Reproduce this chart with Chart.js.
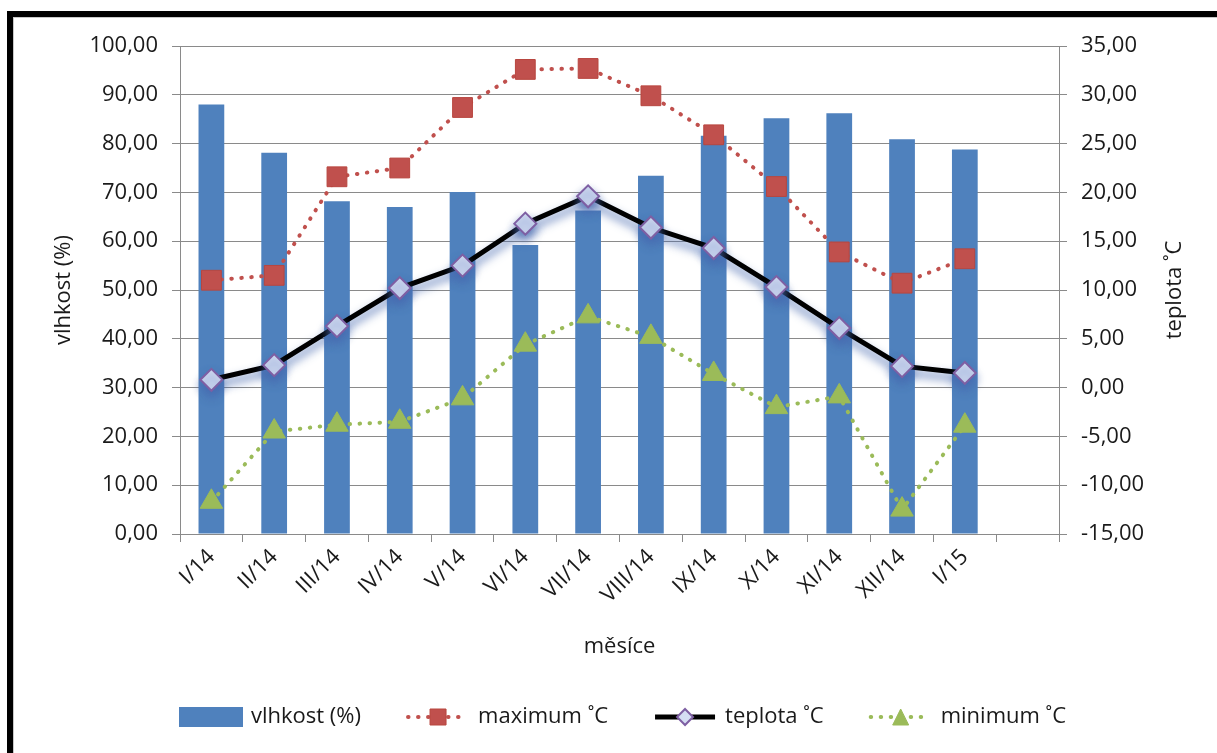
<!DOCTYPE html>
<html><head><meta charset="utf-8">
<script src="https://cdn.jsdelivr.net/npm/chart.js@4.4.1/dist/chart.umd.min.js"></script>
<style>
html,body{margin:0;padding:0;background:#fff;overflow:hidden}
#wrap{position:relative;width:1217px;height:753px;overflow:hidden}
#frame{position:absolute;left:7px;top:11px;width:1240px;height:780px;border-top:6px solid #000;border-left:6px solid #000;box-shadow:inset 1px 1px 0 #c8c8c8}
canvas{position:absolute;left:0;top:0}
</style></head><body>
<div id="wrap"><div id="frame"></div><canvas id="c" width="1217" height="753"></canvas></div>
<script>
const categories = ['I/14','II/14','III/14','IV/14','V/14','VI/14','VII/14','VIII/14','IX/14','X/14','XI/14','XII/14','I/15',''];
const humidity = [88.0,78.1,68.2,67.0,70.1,59.2,66.3,73.4,81.6,85.2,86.2,80.9,78.8];
const tempMax  = [11.0,11.5,21.6,22.5,28.7,32.6,32.7,29.9,25.9,20.6,13.9,10.7,13.2];
const tempAvg  = [0.8,2.3,6.3,10.2,12.5,16.8,19.6,16.4,14.3,10.3,6.1,2.2,1.5];
const tempMin  = [-11.7,-4.5,-3.8,-3.5,-1.1,4.4,7.3,5.2,1.4,-2.0,-0.9,-12.5,-3.9];
const seriesNames = ['vlhkost (%)','maximum ˚C','teplota ˚C','minimum ˚C'];
const axisTitles = {x:'měsíce', left:'vlhkost (%)', right:'teplota ˚C'};

const FONT = {family:"'Open Sans', 'Noto Sans', sans-serif", size:22};
const TXT = '#1a1a1a';
const GRID = '#8a8a8a';
const fmt = v => Number(v).toFixed(2).replace('.', ',');

const glow = {
  id:'glow',
  beforeDatasetDraw(chart, args){
    if (chart.data.datasets[args.index].glow){
      const c = chart.ctx; c.save();
      c.shadowColor = 'rgba(70,105,175,0.85)'; c.shadowBlur = 10; c.shadowOffsetX = 0; c.shadowOffsetY = 6;
    }
  },
  afterDatasetDraw(chart, args){
    if (chart.data.datasets[args.index].glow) chart.ctx.restore();
  }
};

// right axis title reads bottom-to-top, as in the original
const rightTitle = {
  id:'rightTitle',
  afterDraw(chart){
    const s = chart.scales.y1, ctx = chart.ctx;
    ctx.save();
    ctx.font = FONT.size + 'px ' + FONT.family;
    ctx.fillStyle = TXT; ctx.textAlign = 'center'; ctx.textBaseline = 'middle';
    ctx.translate(s.right - 42, (s.top + s.bottom)/2);
    ctx.rotate(-Math.PI/2);
    ctx.fillText(axisTitles.right, 0, 0);
    ctx.restore();
  }
};

function marker(ctx, style, x, y, s, fill, stroke, lw){
  ctx.save();
  ctx.fillStyle = fill; ctx.strokeStyle = stroke; ctx.lineWidth = lw; ctx.setLineDash([]);
  ctx.beginPath();
  if (style === 'rect'){ ctx.rect(x - s/2, y - s/2, s, s); }
  else if (style === 'rectRot'){ ctx.moveTo(x, y - s/2); ctx.lineTo(x + s/2, y); ctx.lineTo(x, y + s/2); ctx.lineTo(x - s/2, y); ctx.closePath(); }
  else if (style === 'triangle'){ ctx.moveTo(x, y - s/2); ctx.lineTo(x + s/2, y + s/2); ctx.lineTo(x - s/2, y + s/2); ctx.closePath(); }
  ctx.fill(); if (lw) ctx.stroke();
  ctx.restore();
}

const legendPlugin = {
  id:'customLegend',
  afterDraw(chart){
    const ctx = chart.ctx;
    const ds = chart.data.datasets;
    ctx.save();
    ctx.font = FONT.size + 'px ' + FONT.family;
    const sym = 64, gapSym = 8, gapItem = 45;
    const widths = ds.map(d => sym + gapSym + ctx.measureText(d.label).width);
    const total = widths.reduce((a,b)=>a+b,0) + gapItem*(ds.length-1);
    const ca = chart.chartArea;
    let x = (ca.left + ca.right)/2 - total/2 + 3;
    const y = chart.scales.x.bottom + 47;
    ds.forEach((d, i) => {
      if (d.type === 'bar'){
        ctx.fillStyle = d.backgroundColor; ctx.fillRect(x, y - 10, sym, 20);
      } else {
        ctx.save();
        ctx.strokeStyle = d.borderColor; ctx.lineWidth = d.borderWidth;
        ctx.lineCap = d.borderCapStyle || 'butt';
        ctx.setLineDash(d.borderDash || []);
        ctx.beginPath(); ctx.moveTo(x + 2, y); ctx.lineTo(x + sym - 2, y); ctx.stroke();
        ctx.restore();
        marker(ctx, d.pointStyle, x + sym/2, y, d.legendMarker, d.pointBackgroundColor, d.pointBorderColor, d.pointBorderWidth);
      }
      ctx.fillStyle = TXT; ctx.textBaseline = 'middle'; ctx.textAlign = 'left';
      ctx.fillText(d.label, x + sym + gapSym, y);
      x += widths[i] + gapItem;
    });
    ctx.restore();
  }
};

new Chart(document.getElementById('c'), {
  data: {
    labels: categories,
    datasets: [
      {type:'bar', label:seriesNames[0], data:humidity, yAxisID:'y', backgroundColor:'#4F81BD',
       barPercentage:0.41, categoryPercentage:1, order:10},
      {type:'line', label:seriesNames[1], data:tempMax, yAxisID:'y1', borderColor:'#C0504D', borderWidth:4,
       borderDash:[0.5,9.5], borderCapStyle:'round', pointStyle:'rect', pointRadius:14,
       pointBackgroundColor:'#C0504D', pointBorderColor:'#B8463F', pointBorderWidth:1, legendMarker:16, tension:0, order:3},
      {type:'line', label:seriesNames[2], data:tempAvg, yAxisID:'y1', borderColor:'#000000', borderWidth:5,
       pointStyle:'rectRot', pointRadius:11, pointBackgroundColor:'#D5DEF3', pointBorderColor:'#7E5FA3',
       pointBorderWidth:2, legendMarker:16, tension:0, order:1, glow:true},
      {type:'line', label:seriesNames[3], data:tempMin, yAxisID:'y1', borderColor:'#9BBB59', borderWidth:4,
       borderDash:[0.5,9.5], borderCapStyle:'round', pointStyle:'triangle', pointRadius:13,
       pointBackgroundColor:'#9BBB59', pointBorderColor:'#9BBB59', pointBorderWidth:1, legendMarker:16, tension:0, order:2}
    ]
  },
  options: {
    responsive:false, animation:false, events:[],
    layout:{padding:{left:20, right:0, top:46, bottom:83}},
    plugins:{legend:{display:false}, tooltip:{enabled:false}},
    scales:{
      x:{
        offset:true,
        grid:{display:true, drawOnChartArea:false, drawTicks:true, tickLength:8, offset:true, color:GRID},
        border:{display:true, color:GRID},
        ticks:{autoSkip:false, maxRotation:45, minRotation:45, font:FONT, color:TXT, padding:2},
        title:{display:true, text:axisTitles.x, font:FONT, color:TXT, padding:{top:0, bottom:10}},
        afterFit(s){ s.height = 136; }
      },
      y:{
        position:'left', min:0, max:100,
        ticks:{stepSize:10, callback:fmt, font:FONT, color:TXT, padding:14},
        grid:{color:GRID, tickLength:8},
        border:{display:true, color:GRID},
        title:{display:true, text:axisTitles.left, font:FONT, color:TXT, padding:{top:31, bottom:0}},
        afterFit(s){ s.width = 160; }
      },
      y1:{
        position:'right', min:-15, max:35,
        ticks:{stepSize:5, callback:fmt, font:FONT, color:TXT, padding:14},
        grid:{drawOnChartArea:false, tickLength:8, color:GRID},
        border:{display:true, color:GRID},
        title:{display:false, text:axisTitles.right},
        afterFit(s){ s.width = 158; }
      }
    }
  },
  plugins:[glow, rightTitle, legendPlugin]
});
</script>
</body></html>
